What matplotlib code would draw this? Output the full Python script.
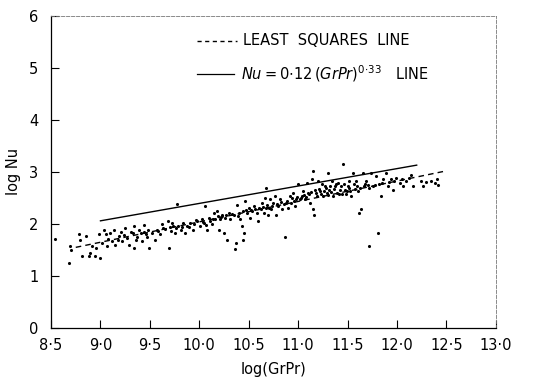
import matplotlib
matplotlib.use("Agg")
import matplotlib.pyplot as plt

log_grpr = [
    8.54, 8.68, 8.69, 8.70, 8.78, 8.79, 8.81, 8.85, 8.88, 8.89, 8.91, 8.94, 8.95, 8.99, 9.00,
    9.02, 9.04, 9.06, 9.07, 9.10, 9.12, 9.14, 9.15, 9.19, 9.21, 9.22, 9.25, 9.27, 9.29, 9.31,
    9.34, 9.34, 9.37, 9.39, 9.41, 9.42, 9.44, 9.46, 9.48, 9.49, 9.52, 9.55, 9.57, 9.60, 9.62,
    9.65, 9.68, 9.69, 9.71, 9.73, 9.75, 9.77, 9.78, 9.81, 9.84, 9.86, 9.88, 9.91, 9.94, 9.98,
    10.01, 10.03, 10.05, 10.06, 10.08, 10.10, 10.13, 10.15, 10.16, 10.18, 10.20, 10.21, 10.23,
    10.25, 10.26, 10.28, 10.30, 10.31, 10.35, 10.36, 10.37, 10.38, 10.40, 10.41, 10.43, 10.44,
    10.45, 10.46, 10.48, 10.50, 10.51, 10.53, 10.55, 10.58, 10.59, 10.62, 10.63, 10.65, 10.67,
    10.68, 10.68, 10.70, 10.72, 10.73, 10.75, 10.77, 10.78, 10.80, 10.82, 10.84, 10.87, 10.88,
    10.90, 10.92, 10.93, 10.95, 10.97, 10.98, 11.00, 11.02, 11.04, 11.05, 11.07, 11.09, 11.10,
    11.12, 11.14, 11.15, 11.15, 11.16, 11.17, 11.19, 11.20, 11.22, 11.24, 11.25, 11.27, 11.29,
    11.30, 11.31, 11.34, 11.35, 11.37, 11.39, 11.40, 11.42, 11.44, 11.45, 11.46, 11.49, 11.51,
    11.52, 11.54, 11.56, 11.57, 11.59, 11.61, 11.62, 11.64, 11.66, 11.67, 11.69, 11.72, 11.72,
    11.74, 11.76, 11.79, 11.81, 11.82, 11.84, 11.86, 11.89, 11.91, 11.94, 11.96, 11.99, 12.03,
    12.06, 12.09, 12.14, 12.16, 12.24, 12.26, 12.29, 12.34, 12.39, 12.41, 12.42,
    9.08, 9.18, 9.24, 9.33, 9.36, 9.44, 9.47,
    9.58, 9.63, 9.70, 9.72, 9.76, 9.83, 9.90, 9.95, 9.97,
    10.04, 10.07, 10.11, 10.14, 10.19, 10.22, 10.27, 10.33, 10.39, 10.44, 10.47,
    10.52, 10.56, 10.60, 10.64, 10.69, 10.71, 10.74, 10.79, 10.83, 10.86, 10.89, 10.94, 10.96, 10.99,
    11.03, 11.06, 11.08, 11.11, 11.13, 11.18, 11.21, 11.23, 11.26, 11.28, 11.30, 11.32, 11.33,
    11.36, 11.38, 11.41, 11.43, 11.47, 11.48, 11.50,
    11.53, 11.58, 11.60, 11.63, 11.68, 11.71, 11.78, 11.85, 11.92, 11.97, 12.05, 12.12,
]
log_nu = [
    1.71, 1.25, 1.57, 1.50, 1.81, 1.70, 1.38, 1.77, 1.38, 1.44, 1.57, 1.38, 1.54, 1.80, 1.35,
    1.64, 1.89, 1.80, 1.57, 1.83, 1.67, 1.89, 1.60, 1.77, 1.84, 1.67, 1.93, 1.73, 1.60, 1.84,
    1.96, 1.54, 1.75, 1.89, 1.83, 1.67, 1.97, 1.80, 1.89, 1.54, 1.83, 1.70, 1.89, 1.80, 1.99,
    1.91, 2.05, 1.54, 1.86, 1.96, 1.83, 2.39, 1.96, 1.89, 2.02, 1.83, 1.96, 2.02, 1.89, 2.05,
    1.96, 2.09, 2.01, 2.34, 1.89, 2.12, 1.99, 2.21, 2.09, 2.25, 1.89, 2.09, 2.18,
    1.83, 2.12, 1.70, 2.21, 2.09, 2.18, 1.51, 1.64, 2.37, 2.21, 2.09, 1.96, 1.70,
    1.83, 2.44, 2.21, 2.31, 2.12, 2.25, 2.34, 2.21, 2.05, 2.28, 2.41, 2.21, 2.50,
    2.70, 2.31, 2.18, 2.47, 2.28, 2.41, 2.54, 2.18, 2.34, 2.47, 2.28, 1.75, 2.41,
    2.31, 2.54, 2.41, 2.60, 2.34, 2.47, 2.76, 2.47, 2.54, 2.63, 2.47, 2.79, 2.60,
    2.41, 2.86, 3.02, 2.28, 2.18, 2.66, 2.54, 2.82, 2.63, 2.76, 2.54, 2.73, 2.60,
    2.98, 2.66, 2.82, 2.54, 2.73, 2.60, 2.79, 2.66, 2.57, 3.15, 2.76, 2.63, 2.82,
    2.70, 2.54, 2.98, 2.76, 2.82, 2.63, 2.21, 2.28, 2.98, 2.73, 2.82, 1.57, 2.70,
    2.98, 2.73, 2.92, 1.83, 2.76, 2.54, 2.86, 2.98, 2.73, 2.86, 2.66, 2.89, 2.79,
    2.73, 2.82, 2.95, 2.73, 2.82, 2.73, 2.80, 2.82, 2.79, 2.86, 2.74,
    1.72, 1.70, 1.78, 1.82, 1.70, 1.84, 1.75,
    1.86, 1.92, 1.95, 2.02, 1.92, 1.95, 1.94, 2.00, 2.08,
    2.03, 1.98, 2.05, 2.10, 2.15, 2.13, 2.17, 2.20, 2.16, 2.24, 2.27,
    2.26, 2.28, 2.30, 2.33, 2.36, 2.30, 2.35, 2.38, 2.42, 2.38, 2.45, 2.50, 2.44, 2.52,
    2.50, 2.56, 2.52, 2.58, 2.62, 2.60, 2.68, 2.58, 2.64, 2.70, 2.56, 2.72, 2.62,
    2.68, 2.76, 2.58, 2.72, 2.66, 2.58, 2.72,
    2.64, 2.68, 2.72, 2.70, 2.76, 2.74, 2.74, 2.78, 2.80, 2.82, 2.86, 2.88,
]

# fitted lines (end points)
lsq_x = [8.75, 12.5]
lsq_y = [1.55, 3.02]
corr_x = [9.0, 12.2]
corr_y = [2.06, 3.13]

xticks = [8.5, 9.0, 9.5, 10.0, 10.5, 11.0, 11.5, 12.0, 12.5, 13.0]
xtick_labels = ["8·5", "9·0", "9·5", "10·0", "10·5", "11·0", "11·5", "12·0", "12·5", "13·0"]
yticks = [0, 1, 2, 3, 4, 5, 6]

fig = plt.figure(figsize=(5.49, 3.77), dpi=100)
ax = fig.add_axes([0.093, 0.13, 0.81, 0.828])

ax.scatter(log_grpr, log_nu, s=5, color="black", linewidths=0)
ax.plot(lsq_x, lsq_y, color="black", linewidth=1.0, linestyle=(0, (4, 3)))
ax.plot(corr_x, corr_y, color="black", linewidth=1.0)

ax.set_xlim(8.5, 13.0)
ax.set_ylim(0, 6)
ax.set_xticks(xticks)
ax.set_xticklabels(xtick_labels)
ax.set_yticks(yticks)
ax.tick_params(direction="in", length=6, width=0.8, labelsize=10.5)
ax.tick_params(axis="x", pad=7)
ax.tick_params(axis="y", pad=9)

ax.set_xlabel("log(GrPr)", fontsize=10.5, labelpad=7)
ax.set_ylabel("log Nu", fontsize=10.5, labelpad=6)

for side in ["top", "right"]:
    ax.spines[side].set_linestyle((0, (4, 2)))
    ax.spines[side].set_color("#777777")
    ax.spines[side].set_linewidth(0.6)
for side in ["bottom", "left"]:
    ax.spines[side].set_linewidth(0.9)

# hand-drawn style key
ax.plot([9.98, 10.38], [5.52, 5.52], color="black", linewidth=1.0, linestyle=(0, (3, 2.5)))
ax.text(10.44, 5.52, "LEAST  SQUARES  LINE", fontsize=10.5, va="center", ha="left")
ax.plot([9.98, 10.35], [4.89, 4.89], color="black", linewidth=0.9)
ax.text(10.42, 4.89, r"$Nu = 0{\cdot}12\,(GrPr)^{0{\cdot}33}$   LINE", fontsize=10.5, va="center", ha="left")

fig.savefig("out.png", dpi=100)
